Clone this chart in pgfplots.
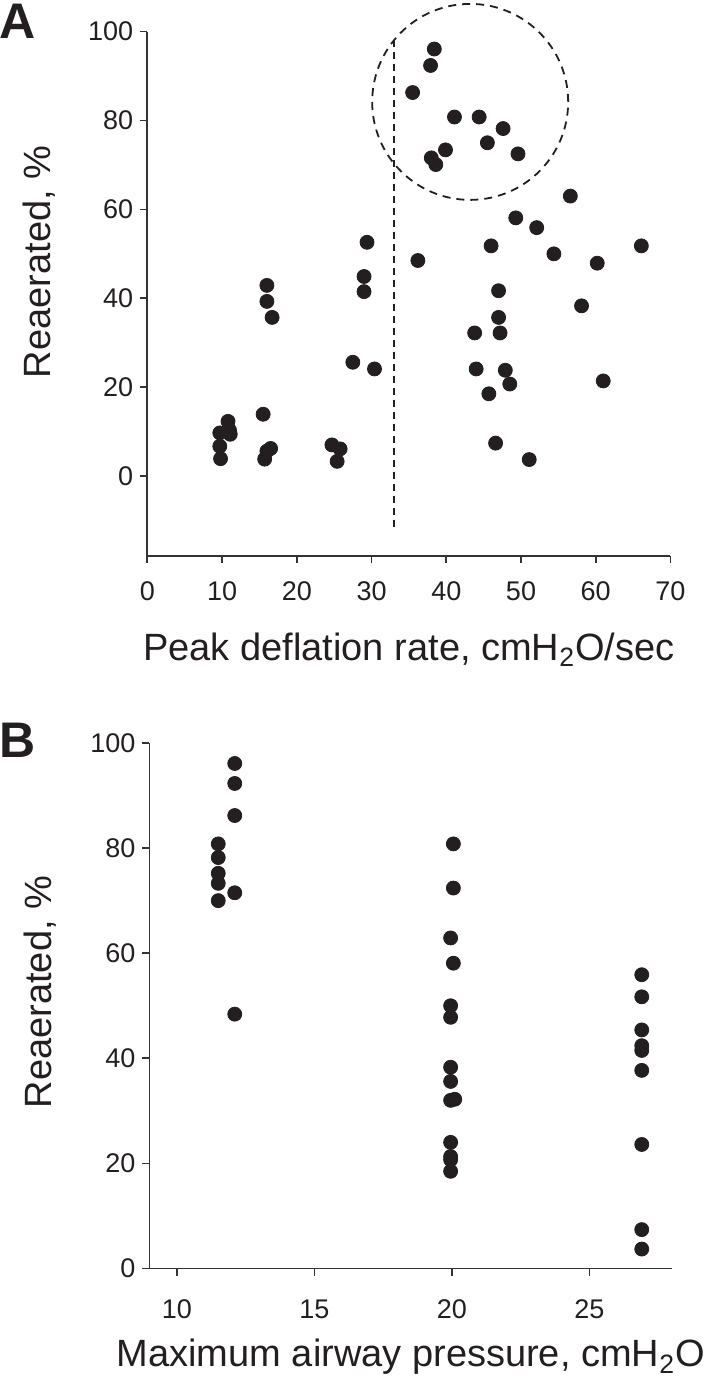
\documentclass[border=0pt]{standalone}
\usepackage{pgfplots}
\pgfplotsset{compat=1.18}
\usepackage{fontspec}
\setmainfont{Liberation Sans}
\definecolor{dot}{HTML}{231F20}
\definecolor{axc}{HTML}{333333}

\pgfplotstableread{
x y
10.8 12.3
9.7 9.7
11.0 10.3
11.1 9.4
9.7 6.7
9.8 3.9
15.5 13.9
16.0 42.9
16.0 39.3
16.7 35.7
16.5 6.2
16.0 5.6
15.7 3.8
24.7 7.0
25.8 6.1
25.4 3.3
27.5 25.6
30.4 24.1
29.0 44.9
29.0 41.5
29.4 52.6
36.2 48.5
38.4 96.1
37.9 92.4
35.5 86.3
41.1 80.8
44.4 80.8
47.6 78.2
45.5 75.0
39.9 73.4
38.0 71.6
38.6 70.1
49.6 72.5
56.6 63.0
49.3 58.1
52.1 55.9
46.0 51.8
54.4 50.0
60.2 47.9
66.1 51.8
47.0 41.7
58.1 38.3
47.0 35.7
43.8 32.2
47.2 32.2
44.0 24.1
47.9 23.8
48.5 20.7
45.7 18.5
61.0 21.4
46.6 7.4
51.1 3.7
}\dataA

\pgfplotstableread{
x y
12.1 96.1
12.1 92.3
12.1 86.2
12.1 71.5
12.1 48.4
11.5 80.8
11.5 78.2
11.5 75.2
11.5 73.3
11.5 70.0
20.05 80.8
20.05 72.4
19.95 62.9
20.05 58.1
19.95 50.0
19.95 47.8
19.95 38.3
19.95 35.6
20.1 32.2
19.95 32.0
19.95 24.0
19.95 21.3
19.95 20.7
19.95 18.5
26.9 55.9
26.9 51.7
26.9 45.4
26.9 42.4
26.9 41.5
26.9 37.7
26.9 23.6
26.9 7.4
26.9 3.7
}\dataB

\pgfplotsset{
  myaxis/.style={
    scale only axis,
    axis lines*=left,
    axis line style={color=axc, line width=0.8pt},
    tick style={color=axc, line width=0.8pt},
    tick align=outside,
    major tick length=3.5pt,
    /pgf/number format/assume math mode=true,
    tick label style={font=\fontsize{13.5}{15}\selectfont, text=dot},
    label style={font=\fontsize{19}{22}\selectfont, text=dot},
    clip=false,
  },
}

\begin{document}
\begin{tikzpicture}
\useasboundingbox (0,0) rectangle (353.5pt,691pt);

\begin{axis}[myaxis,
  at={(73.65pt,413pt)}, anchor=south west,
  width=261.6pt, height=262.15pt,
  xmin=0, xmax=70, ymin=-18, ymax=100,
  xtick={0,10,...,70}, ytick={0,20,...,100},
  xticklabel shift=6pt,
  xlabel={Peak deflation rate, cmH\textsubscript{2}O/sec},
  ylabel={Reaerated, \%},
  xlabel style={at={(axis description cs:0.5,-0.179)}, anchor=center},
  ylabel style={at={(axis description cs:-0.207,0.561)}, anchor=center},
]
\addplot[only marks, mark=*, mark size=3.5pt, color=dot, mark options={draw=dot, fill=dot}] table[x=x,y=y] {\dataA};
\addplot[dot, line width=0.9pt, dash pattern=on 3.5pt off 2.5pt] coordinates {(33,98.2) (33,-11.6)};
\draw[dot, line width=0.9pt, dash pattern=on 4pt off 3pt] (axis cs:43.2,84.2) circle[radius=49pt];
\end{axis}

\begin{axis}[myaxis,
  at={(74.75pt,56.75pt)}, anchor=south west,
  width=261.25pt, height=262.75pt,
  xmin=9, xmax=28, ymin=0, ymax=100,
  xtick={10,15,20,25}, ytick={0,20,...,100},
  xticklabel shift=8.5pt,
  xlabel={Maximum airway pressure, cmH\textsubscript{2}O},
  ylabel={Reaerated, \%},
  xlabel style={at={(axis description cs:0.5,-0.168)}, anchor=center},
  ylabel style={at={(axis description cs:-0.2096,0.526)}, anchor=center},
]
\addplot[only marks, mark=*, mark size=3.5pt, color=dot, mark options={draw=dot, fill=dot}] table[x=x,y=y] {\dataB};
\end{axis}

\node[font=\fontsize{25}{30}\selectfont\bfseries, text=dot] at (9pt,680.5pt) {A};
\node[font=\fontsize{25}{30}\selectfont\bfseries, text=dot] at (9pt,321pt) {B};
\end{tikzpicture}
\end{document}
